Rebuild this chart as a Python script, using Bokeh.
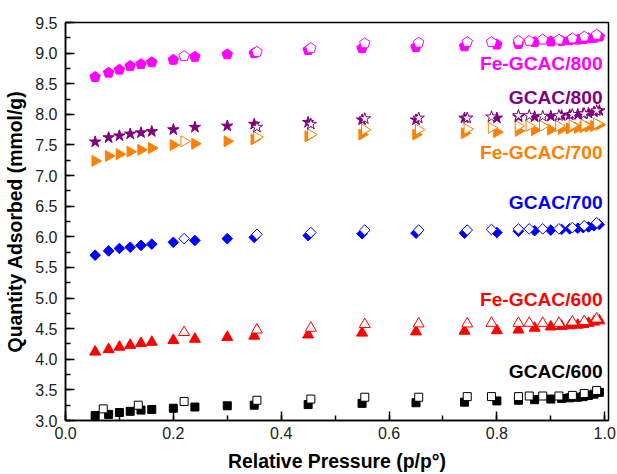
import math
from bokeh.plotting import figure
from bokeh.models import SingleIntervalTicker, NumeralTickFormatter, Range1d, ColumnDataSource
from bokeh.core.properties import value
from bokeh.embed import file_html
from bokeh.resources import INLINE

# ---------------- data ----------------
ads_x = [0.055, 0.08, 0.10, 0.12, 0.14, 0.16, 0.20, 0.24, 0.30, 0.35, 0.45, 0.55, 0.65,
         0.74, 0.80, 0.84, 0.87, 0.90, 0.92, 0.935, 0.95, 0.96, 0.97, 0.98, 0.99]
des_x = [0.07, 0.135, 0.22, 0.355, 0.455, 0.555, 0.655, 0.745, 0.79, 0.84, 0.86, 0.885,
         0.915, 0.94, 0.962, 0.985]

gcac600_ads = [3.08, 3.10, 3.13, 3.15, 3.17, 3.18, 3.20, 3.22, 3.24, 3.25, 3.26, 3.28, 3.29,
               3.30, 3.32, 3.33, 3.34, 3.35, 3.36, 3.37, 3.38, 3.39, 3.41, 3.43, 3.46]
gcac600_des = [3.19, 3.25, 3.31, 3.33, 3.35, 3.38, 3.38, 3.39, 3.39, 3.39, 3.40, 3.40,
               3.40, 3.41, 3.44, 3.49]

fe600_ads = [4.12, 4.16, 4.20, 4.23, 4.26, 4.28, 4.31, 4.33, 4.36, 4.38, 4.40, 4.43, 4.45,
             4.46, 4.47, 4.48, 4.51, 4.53, 4.54, 4.55, 4.56, 4.57, 4.59, 4.61, 4.63]
fe600_des = [4.44, 4.48, 4.51, 4.57, 4.58, 4.58, 4.59, 4.59, 4.59, 4.59, 4.59, 4.61, 4.62, 4.66]

gcac700_ads = [5.70, 5.77, 5.81, 5.83, 5.86, 5.88, 5.91, 5.94, 5.97, 5.99, 6.02, 6.05, 6.06,
               6.06, 6.07, 6.09, 6.10, 6.11, 6.12, 6.13, 6.14, 6.15, 6.16, 6.18, 6.20]
gcac700_des = [5.97, 6.04, 6.07, 6.11, 6.11, 6.11, 6.12, 6.13, 6.13, 6.13, 6.13, 6.15, 6.18, 6.23]

fe700_ads = [7.24, 7.32, 7.35, 7.39, 7.42, 7.45, 7.50, 7.52, 7.56, 7.59, 7.64, 7.67, 7.67,
             7.69, 7.71, 7.73, 7.74, 7.75, 7.76, 7.77, 7.78, 7.79, 7.80, 7.81, 7.83]
fe700_des = [7.56, 7.63, 7.67, 7.75, 7.75, 7.76, 7.78, 7.81, 7.81, 7.81, 7.81, 7.82, 7.83, 7.85]

gcac800_ads = [7.55, 7.62, 7.65, 7.68, 7.70, 7.72, 7.75, 7.79, 7.81, 7.84, 7.87, 7.91, 7.91,
               7.94, 7.94, 7.96, 7.96, 7.97, 7.98, 7.99, 8.00, 8.01, 8.02, 8.04, 8.06]
gcac800_des = [7.79, 7.84, 7.93, 7.94, 7.94, 7.96, 7.98, 7.98, 7.97, 7.98, 8.00, 8.01, 8.06]

fe800_ads = [8.61, 8.68, 8.73, 8.79, 8.82, 8.85, 8.89, 8.94, 8.98, 9.00, 9.05, 9.08, 9.10,
             9.11, 9.14, 9.15, 9.18, 9.19, 9.20, 9.21, 9.22, 9.23, 9.24, 9.25, 9.27]
fe800_des = [8.95, 9.02, 9.08, 9.16, 9.17, 9.18, 9.18, 9.20, 9.20, 9.22, 9.22, 9.24, 9.27, 9.30]

series_names = ["GCAC/600", "Fe-GCAC/600", "GCAC/700", "Fe-GCAC/700", "GCAC/800", "Fe-GCAC/800"]
series_colors = ["#000000", "#FF0000", "#0000FF", "#FF8000", "#800080", "#FF00FF"]
label_x = [0.996] * 6
label_y = [3.80, 4.98, 6.56, 7.38, 8.28, 8.83]

FONT = "Liberation Sans"

p = figure(width=617, height=474, output_backend="svg", toolbar_location=None,
           x_range=Range1d(0, 1.007), y_range=Range1d(3.0, 9.5))
p.min_border_left = 65
p.min_border_right = 9
p.min_border_top = 22
p.min_border_bottom = 49
p.xgrid.visible = False
p.ygrid.visible = False
p.outline_line_color = "black"
p.outline_line_width = 1.5

p.xaxis.ticker = SingleIntervalTicker(interval=0.2, num_minor_ticks=2)
p.yaxis.ticker = SingleIntervalTicker(interval=0.5, num_minor_ticks=2)
p.xaxis.formatter = NumeralTickFormatter(format="0.0")
p.yaxis.formatter = NumeralTickFormatter(format="0.0")
for ax in (p.xaxis[0], p.yaxis[0]):
    ax.major_tick_in = 9
    ax.major_tick_out = 0
    ax.minor_tick_in = 5
    ax.minor_tick_out = 0
    ax.axis_line_width = 1.5
    ax.axis_line_color = "black"
    ax.major_tick_line_width = 1.5
    ax.minor_tick_line_width = 1.5
    ax.major_tick_line_color = "black"
    ax.minor_tick_line_color = "black"
    ax.major_label_text_font = FONT
    ax.major_label_text_font_size = "16px"
    ax.major_label_text_color = "#222222"
    ax.axis_label_text_font = FONT
    ax.axis_label_text_font_style = "bold"
    ax.axis_label_text_font_size = "19.4px"
    ax.axis_label_text_color = "black"
p.xaxis.axis_label = "Relative Pressure (p/p°)"
p.yaxis.axis_label = "Quantity Adsorbed (mmol/g)"
p.xaxis.major_label_standoff = 6
p.yaxis.major_label_standoff = 8
p.xaxis.axis_label_standoff = 8
p.yaxis.axis_label_standoff = 6

def dx(ys):
    return des_x[len(des_x) - len(ys):]

# GCAC/600 squares
c = series_colors[0]
p.scatter(ads_x, gcac600_ads, marker="square", size=8, fill_color=c, line_color=c)
p.scatter(dx(gcac600_des), gcac600_des, marker="square", size=8, fill_color="white",
          line_color=c, line_width=1)
# Fe-GCAC/600 triangles
c = series_colors[1]
p.scatter(ads_x, fe600_ads, marker="triangle", size=11, fill_color=c, line_color=c)
p.scatter(dx(fe600_des), fe600_des, marker="triangle", size=11, fill_color="white",
          line_color=c, line_width=1)
# GCAC/700 diamonds
c = series_colors[2]
p.scatter(ads_x, gcac700_ads, marker="square", angle=math.pi / 4, size=7.5, fill_color=c, line_color=c)
p.scatter(dx(gcac700_des), gcac700_des, marker="square", angle=math.pi / 4, size=7.5,
          fill_color="white", line_color=c, line_width=1)
# Fe-GCAC/700 right-pointing triangles
c = series_colors[3]
p.scatter(ads_x, fe700_ads, marker="triangle", angle=-math.pi / 2, size=11, fill_color=c, line_color=c)
p.scatter(dx(fe700_des), fe700_des, marker="triangle", angle=-math.pi / 2, size=11,
          fill_color="white", line_color=c, line_width=1)
# GCAC/800 stars
c = series_colors[4]
p.scatter(ads_x, gcac800_ads, marker="star", size=12, fill_color=c, line_color=c)
p.scatter(dx(gcac800_des), gcac800_des, marker="star", size=12, fill_color="white",
          line_color=c, line_width=1)
# Fe-GCAC/800 pentagons (vertex up)
c = series_colors[5]
p.ngon(x=ads_x, y=fe800_ads, radius=5.5, radius_units="screen", n=5, angle=0,
       fill_color=c, line_color=c)
p.ngon(x=dx(fe800_des), y=fe800_des, radius=5.5, radius_units="screen", n=5, angle=0,
       fill_color="white", line_color=c, line_width=1)

lab = ColumnDataSource(dict(x=label_x, y=label_y, t=series_names, c=series_colors))
p.text(x="x", y="y", text="t", text_color="c", source=lab, text_align="right",
       text_baseline="middle", text_font=value(FONT), text_font_style="bold",
       text_font_size="19.2px")

open("out.html", "w").write(file_html(p, INLINE))
